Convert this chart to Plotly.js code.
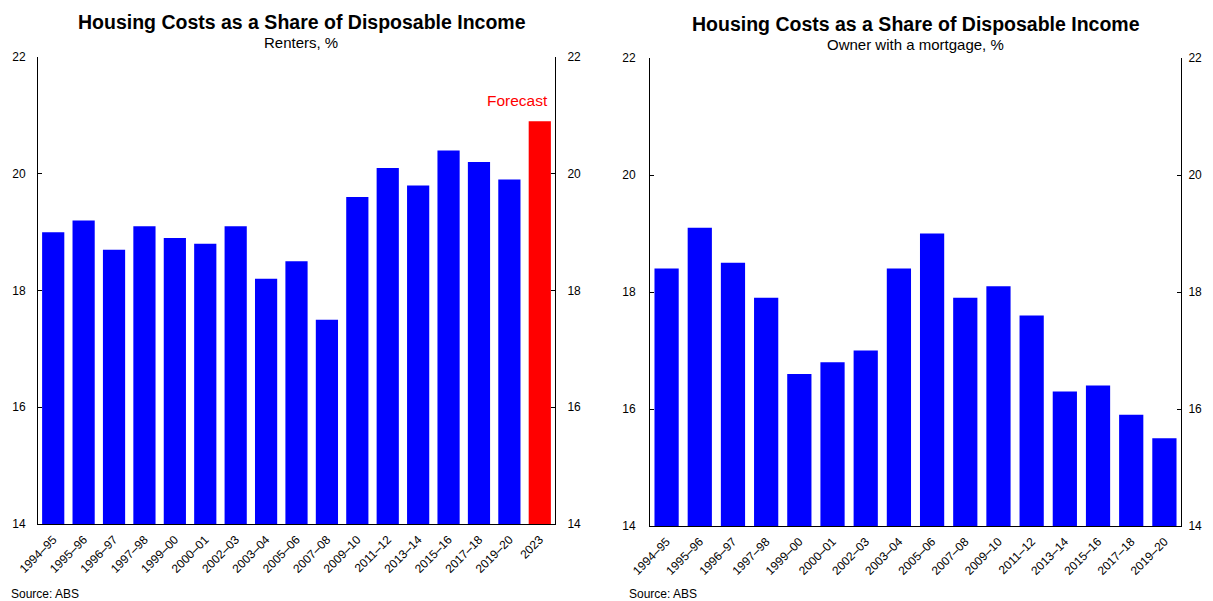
<!DOCTYPE html>
<html>
<head>
<meta charset="utf-8">
<script src="https://cdn.plot.ly/plotly-3.0.1.min.js"></script>
<style>html,body{margin:0;padding:0;background:#fff;}#chart{width:1213px;height:601px;}</style>
</head>
<body>
<div id="chart"></div>
<script>
const renterCategories = ["1994–95","1995–96","1996–97","1997–98","1999–00","2000–01","2002–03","2003–04","2005–06","2007–08","2009–10","2011–12","2013–14","2015–16","2017–18","2019–20","2023"];
const renterValues = [19.0,19.2,18.7,19.1,18.9,18.8,19.1,18.2,18.5,17.5,19.6,20.1,19.8,20.4,20.2,19.9,20.9];
const renterColors = ["blue","blue","blue","blue","blue","blue","blue","blue","blue","blue","blue","blue","blue","blue","blue","blue","red"];
const ownerCategories = ["1994–95","1995–96","1996–97","1997–98","1999–00","2000–01","2002–03","2003–04","2005–06","2007–08","2009–10","2011–12","2013–14","2015–16","2017–18","2019–20"];
const ownerValues = [18.4,19.1,18.5,17.9,16.6,16.8,17.0,18.4,19.0,17.9,18.1,17.6,16.3,16.4,15.9,15.5];
const yTicks = [14,16,18,20,22];
const titleText = "Housing Costs as a Share of Disposable Income";

const W = 1213, H = 601;
const font = "Liberation Sans, Arial, sans-serif";

const traces = [
  {type:"bar", x:renterCategories, y:renterValues, xaxis:"x", yaxis:"y", marker:{color:renterColors}, hoverinfo:"x+y"},
  {type:"scatter", mode:"lines", x:renterCategories, y:renterValues, xaxis:"x", yaxis:"y2", opacity:0, hoverinfo:"skip", showlegend:false},
  {type:"bar", x:ownerCategories, y:ownerValues, xaxis:"x2", yaxis:"y3", marker:{color:"blue"}, hoverinfo:"x+y"},
  {type:"scatter", mode:"lines", x:ownerCategories, y:ownerValues, xaxis:"x2", yaxis:"y4", opacity:0, hoverinfo:"skip", showlegend:false}
];

const yBase = {range:[14,22], tickvals:yTicks, ticks:"inside", ticklen:4, tickcolor:"#000", showline:true, linecolor:"#000", linewidth:1, showgrid:false, zeroline:false, tickfont:{family:font, size:12, color:"#000"}, fixedrange:true};
const xBase = {type:"category", showline:true, linecolor:"#000", linewidth:1, ticks:"", showgrid:false, tickangle:-45, ticklabelstandoff:3, tickfont:{family:font, size:12, color:"#000"}, fixedrange:true};

const lDom = [38/W, 555/W];
const rDom = [650/W, 1181/W];
const lYDom = [77/H, 544/H];
const rYDom = [75/H, 543/H];

const layout = {
  width:W, height:H,
  margin:{l:0,r:0,t:0,b:0},
  paper_bgcolor:"#fff", plot_bgcolor:"#fff",
  showlegend:false,
  bargap:0.27,
  font:{family:font, color:"#000"},
  xaxis:Object.assign({}, xBase, {domain:lDom, anchor:"y", range:[-0.5, renterCategories.length-0.5]}),
  yaxis:Object.assign({}, yBase, {domain:lYDom, anchor:"x", side:"left", ticklabelstandoff:9}),
  yaxis2:Object.assign({}, yBase, {overlaying:"y", anchor:"x", side:"right", ticklabelstandoff:9}),
  xaxis2:Object.assign({}, xBase, {domain:rDom, anchor:"y3", range:[-0.5, ownerCategories.length-0.5]}),
  yaxis3:Object.assign({}, yBase, {domain:rYDom, anchor:"x2", side:"left", ticklabelstandoff:11}),
  yaxis4:Object.assign({}, yBase, {overlaying:"y3", anchor:"x2", side:"right", ticklabelstandoff:4}),
  annotations:[
    {xref:"paper", yref:"paper", x:302/W, y:1-22.5/H, xanchor:"center", yanchor:"middle", text:"<b>"+titleText+"</b>", showarrow:false, font:{family:font, size:19.5, color:"#000"}},
    {xref:"paper", yref:"paper", x:301/W, y:1-42.5/H, xanchor:"center", yanchor:"middle", text:"Renters, %", showarrow:false, font:{family:font, size:15, color:"#000"}},
    {xref:"paper", yref:"paper", x:916/W, y:1-24/H, xanchor:"center", yanchor:"middle", text:"<b>"+titleText+"</b>", showarrow:false, font:{family:font, size:19.5, color:"#000"}},
    {xref:"paper", yref:"paper", x:916/W, y:1-44/H, xanchor:"center", yanchor:"middle", text:"Owner with a mortgage, %", showarrow:false, font:{family:font, size:15, color:"#000"}},
    {xref:"x", yref:"y", x:renterCategories.length-1, y:21.25, xanchor:"right", xshift:10, yanchor:"middle", text:"Forecast", showarrow:false, font:{family:font, size:15.5, color:"red"}},
    {xref:"paper", yref:"paper", x:9/W, y:1-594/H, xanchor:"left", yanchor:"middle", text:"Source: ABS", showarrow:false, font:{family:font, size:12, color:"#000"}},
    {xref:"paper", yref:"paper", x:627/W, y:1-594/H, xanchor:"left", yanchor:"middle", text:"Source: ABS", showarrow:false, font:{family:font, size:12, color:"#000"}}
  ]
};

Plotly.newPlot("chart", traces, layout, {displayModeBar:false, staticPlot:true});
</script>
</body>
</html>
